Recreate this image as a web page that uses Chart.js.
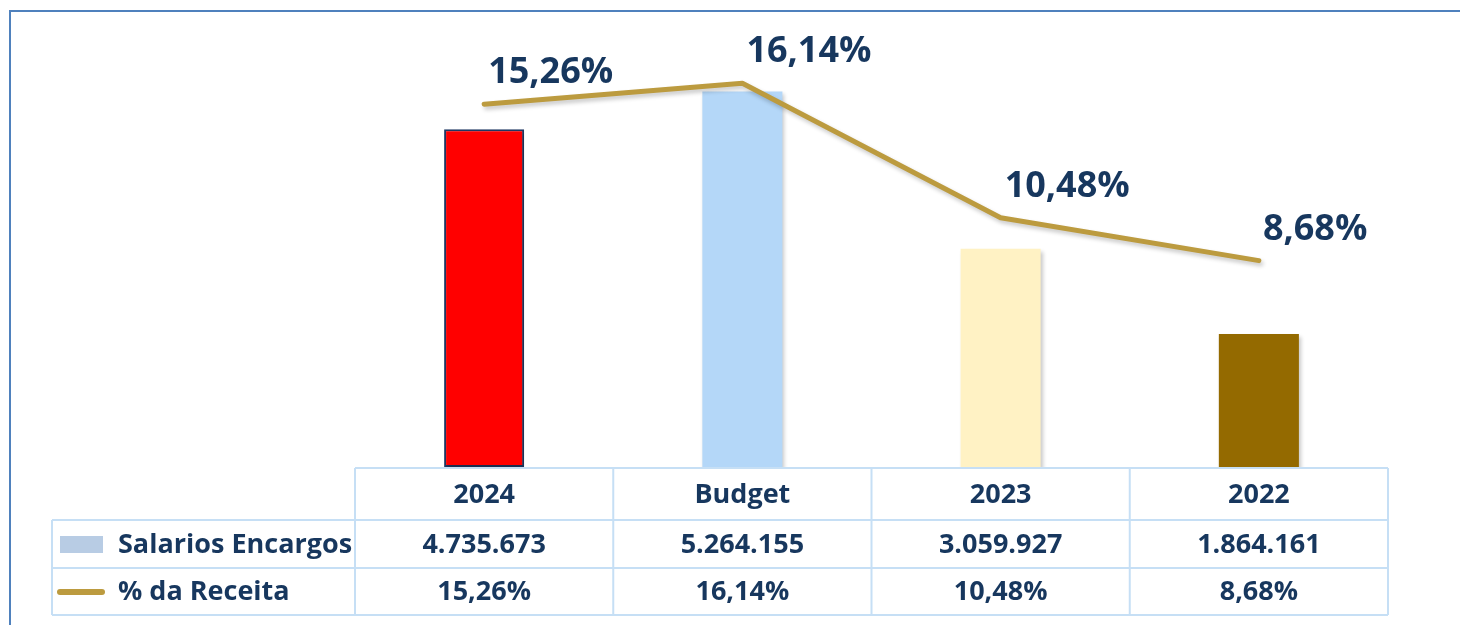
<!DOCTYPE html>
<html>
<head>
<meta charset="utf-8">
<script src="https://cdn.jsdelivr.net/npm/chart.js@4/dist/chart.umd.min.js"></script>
<style>
  html, body { margin: 0; padding: 0; background: #fff; overflow: hidden; }
  #wrap { position: relative; width: 1460px; height: 625px; }
  #frame { position: absolute; left: 9px; top: 10px; width: 1500px; height: 700px;
           border: 2px solid #4f81bd; box-sizing: border-box; }
  #chart { position: absolute; left: 0; top: 0; }
</style>
</head>
<body>
<div id="wrap">
  <div id="frame"></div>
  <canvas id="chart" width="1460" height="625"></canvas>
</div>
<script>
// dados do gráfico
const categorias = ['2024', 'Budget', '2023', '2022'];
const salarios = [4735673, 5264155, 3059927, 1864161];
const receitaPct = [15.26, 16.14, 10.48, 8.68];
const coresBarras = ['#ff0000', '#b4d7f8', '#fff2c4', '#946a00'];
const nomesSeries = ['Salarios Encargos', '% da Receita'];

const corTexto = '#17375e';
const corLinha = '#bc9b3f';
const corGrade = '#c6dff5';
const fonte = '"Open Sans", Lato, sans-serif';

// formata número com separador de milhar "."
function formatarNumero(v) {
    return String(v).replace(/\B(?=(\d{3})+(?!\d))/g, '.');
}

// formata percentual com vírgula
function formatarPct(v) {
    return v.toFixed(2).replace('.', ',') + '%';
}

// sombra suave nas barras e na linha
const sombraPlugin = {
    id: 'sombra',
    beforeDatasetDraw(chart) {
        const ctx = chart.ctx;
        ctx.save();
        ctx.shadowColor = 'rgba(0,0,0,0.22)';
        ctx.shadowBlur = 4;
        ctx.shadowOffsetX = 2;
        ctx.shadowOffsetY = 3;
    },
    afterDatasetDraw(chart) {
        chart.ctx.restore();
    }
};

// rótulos dos pontos da linha
const rotulosPlugin = {
    id: 'rotulos',
    afterDatasetsDraw(chart) {
        const ctx = chart.ctx;
        const meta = chart.getDatasetMeta(1);
        ctx.save();
        ctx.font = 'bold 36px ' + fonte;
        ctx.fillStyle = corTexto;
        ctx.textAlign = 'left';
        ctx.textBaseline = 'alphabetic';
        meta.data.forEach(function(pt, i) {
            ctx.fillText(formatarPct(receitaPct[i]), pt.x + 4, pt.y - 21);
        });
        ctx.restore();
    }
};

// tabela de dados abaixo do gráfico
const tabelaPlugin = {
    id: 'tabela',
    afterDraw(chart) {
        const ctx = chart.ctx;
        const x = chart.scales.x;
        const n = categorias.length;
        const larg = (x.right - x.left) / n;
        const linhas = [468, 520, 568, 615];
        const xLegenda = 52;

        ctx.save();
        ctx.strokeStyle = corGrade;
        ctx.lineWidth = 2;
        ctx.beginPath();
        // linhas horizontais
        ctx.moveTo(x.left, linhas[0]); ctx.lineTo(x.right, linhas[0]);
        for (let r = 1; r < linhas.length; r++) {
            ctx.moveTo(xLegenda, linhas[r]); ctx.lineTo(x.right, linhas[r]);
        }
        // linhas verticais
        for (let c = 0; c <= n; c++) {
            const cx = x.left + c * larg;
            ctx.moveTo(cx, linhas[0]); ctx.lineTo(cx, linhas[3]);
        }
        ctx.moveTo(xLegenda, linhas[1]); ctx.lineTo(xLegenda, linhas[3]);
        ctx.stroke();

        ctx.font = 'bold 27px ' + fonte;
        ctx.fillStyle = corTexto;
        ctx.textAlign = 'center';
        ctx.textBaseline = 'middle';
        for (let c = 0; c < n; c++) {
            const cx = x.getPixelForValue(c);
            ctx.fillText(categorias[c], cx, (linhas[0] + linhas[1]) / 2 + 1);
            ctx.fillText(formatarNumero(salarios[c]), cx, (linhas[1] + linhas[2]) / 2 + 1);
            ctx.fillText(formatarPct(receitaPct[c]), cx, (linhas[2] + linhas[3]) / 2 + 1);
        }

        // legenda
        ctx.fillStyle = '#b8cce4';
        ctx.fillRect(60, 536, 43, 17);
        ctx.strokeStyle = corLinha;
        ctx.lineWidth = 6;
        ctx.lineCap = 'round';
        ctx.beginPath();
        ctx.moveTo(60, 592); ctx.lineTo(102, 592);
        ctx.stroke();

        ctx.fillStyle = corTexto;
        ctx.textAlign = 'left';
        ctx.fillText(nomesSeries[0], 118, (linhas[1] + linhas[2]) / 2 + 1);
        ctx.fillText(nomesSeries[1], 118, (linhas[2] + linhas[3]) / 2 + 1);
        ctx.restore();
    }
};

const ctx = document.getElementById('chart').getContext('2d');
new Chart(ctx, {
    data: {
        labels: categorias,
        datasets: [{
            type: 'bar',
            label: nomesSeries[0],
            data: salarios,
            backgroundColor: coresBarras,
            borderColor: '#1f3864',
            borderWidth: [2, 0, 0, 0],
            borderSkipped: false,
            barPercentage: 0.31,
            categoryPercentage: 1,
            yAxisID: 'y',
            order: 2
        }, {
            type: 'line',
            label: nomesSeries[1],
            data: receitaPct,
            borderColor: corLinha,
            borderWidth: 5,
            borderCapStyle: 'round',
            borderJoinStyle: 'round',
            pointRadius: 0,
            tension: 0,
            yAxisID: 'y1',
            order: 1
        }]
    },
    options: {
        responsive: false,
        animation: false,
        layout: { padding: { left: 355, right: 72, top: 39, bottom: 158 } },
        plugins: {
            legend: { display: false },
            tooltip: { enabled: false }
        },
        scales: {
            x: { display: false, offset: true },
            y: { display: false, min: 0, max: 6000000 },
            y1: { display: false, min: 0, max: 18, position: 'right' }
        }
    },
    plugins: [sombraPlugin, rotulosPlugin, tabelaPlugin]
});
</script>
</body>
</html>
